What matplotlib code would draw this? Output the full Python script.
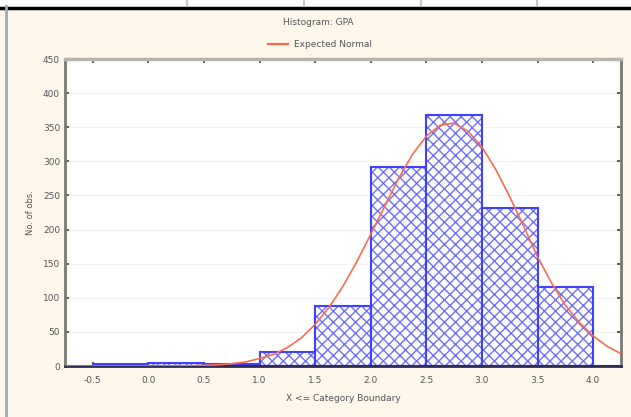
import matplotlib
matplotlib.use("Agg")
import matplotlib.pyplot as plt
from matplotlib.lines import Line2D
from matplotlib.patches import Rectangle

# histogram bins (left edges), width 0.5, counts
bin_left = [-0.5, 0.0, 0.5, 1.0, 1.5, 2.0, 2.5, 3.0, 3.5]
counts = [3, 5, 3, 21, 88, 292, 368, 232, 116]
bin_width = 0.5

# expected normal curve
curve_x = [-0.75, -0.625, -0.5, -0.375, -0.25, -0.125, 0.0, 0.125, 0.25, 0.375,
           0.5, 0.625, 0.75, 0.875, 1.0, 1.125, 1.25, 1.375, 1.5, 1.625,
           1.75, 1.875, 2.0, 2.125, 2.25, 2.375, 2.5, 2.625, 2.75, 2.875,
           3.0, 3.125, 3.25, 3.375, 3.5, 3.625, 3.75, 3.875, 4.0, 4.125, 4.25]
curve_y = [0, 0, 0, 0, 0, 0, 0, 0.1, 0.2, 0.4,
           0.9, 1.8, 3.3, 6, 11, 17, 27, 41, 61, 86,
           117, 153, 193, 234, 275, 310, 337, 353, 356, 344,
           321, 288, 248, 205, 160, 122, 89, 64, 44, 29, 18]

x_ticks = [-0.5, 0.0, 0.5, 1.0, 1.5, 2.0, 2.5, 3.0, 3.5, 4.0]
y_ticks = [0, 50, 100, 150, 200, 250, 300, 350, 400, 450]

bg = "#fdf7ec"
txt = "#555555"
plt.rcParams["font.family"] = ["DejaVu Sans"]
plt.rcParams["hatch.linewidth"] = 1.0

fig = plt.figure(figsize=(6.31, 4.17), dpi=100, facecolor=bg)
ax = fig.add_axes([0.103, 0.1223, 0.881, 0.7362])
ax.set_facecolor("white")

for y in y_ticks[1:-1]:
    ax.axhline(y, color="#f1f1f1", lw=0.8, zorder=0)

# hatch layer in a lighter blue, then the outline on top
ax.bar(bin_left, counts, width=bin_width, align="edge", color="white",
       edgecolor="#7070ff", hatch="xxx", linewidth=0, zorder=2)
ax.bar(bin_left, counts, width=bin_width, align="edge", fill=False,
       edgecolor="#4040ff", linewidth=1.5, zorder=2.2)
ax.plot(curve_x, curve_y, color="#ff6a4d", lw=1.2, zorder=3)
ax.axhline(0, color="#6b2a20", lw=1.5, zorder=2.5)

ax.set_xlim(-0.75, 4.25)
ax.set_ylim(0, 450)
ax.set_xticks(x_ticks)
ax.set_xticklabels(["%.1f" % v for v in x_ticks])
ax.set_yticks(y_ticks)
ax.tick_params(axis="both", direction="in", length=3, width=1.2,
               color="#444444", labelsize=6.5, labelcolor=txt,
               top=True, right=True)
ax.tick_params(axis="x", pad=7)

ax.spines["left"].set_color("#7a7a70")
ax.spines["left"].set_linewidth(2)
ax.spines["right"].set_color("#7a7a70")
ax.spines["right"].set_linewidth(2)
ax.spines["top"].set_color("#b5b5a8")
ax.spines["top"].set_linewidth(2.5)
ax.spines["bottom"].set_color("#2e2e55")
ax.spines["bottom"].set_linewidth(2)

ax.set_xlabel("X <= Category Boundary", fontsize=6.5, color=txt, labelpad=7)
ax.set_ylabel("No. of obs.", fontsize=6, color=txt, labelpad=6)

fig.text(0.505, 0.946, "Histogram: GPA", ha="center", va="center",
         fontsize=6.5, color=txt)
handle = Line2D([], [], color="#ff6a4d", lw=1.6)
fig.legend([handle], ["Expected Normal"], loc="center",
           bbox_to_anchor=(0.507, 0.893), frameon=False, fontsize=6.5,
           labelcolor=txt, handlelength=2.2, handletextpad=0.6)

# top strip from the surrounding page
fig.add_artist(Rectangle((0, 1 - 6 / 417), 1, 6 / 417, transform=fig.transFigure,
                         color="white", zorder=5))
fig.add_artist(Line2D([0, 1], [1 - 7.5 / 417] * 2, transform=fig.transFigure,
                      color="black", lw=2.5, zorder=6))
for px in [187, 304, 421, 537]:
    fig.add_artist(Line2D([px / 631] * 2, [1, 1 - 6 / 417],
                          transform=fig.transFigure, color="#c8c8c8", lw=1.5,
                          zorder=6))
fig.add_artist(Line2D([6 / 631] * 2, [0, 1 - 6 / 417], transform=fig.transFigure,
                      color="#9aabb5", lw=2, zorder=6))

fig.savefig("out.png", dpi=100, facecolor=bg)
